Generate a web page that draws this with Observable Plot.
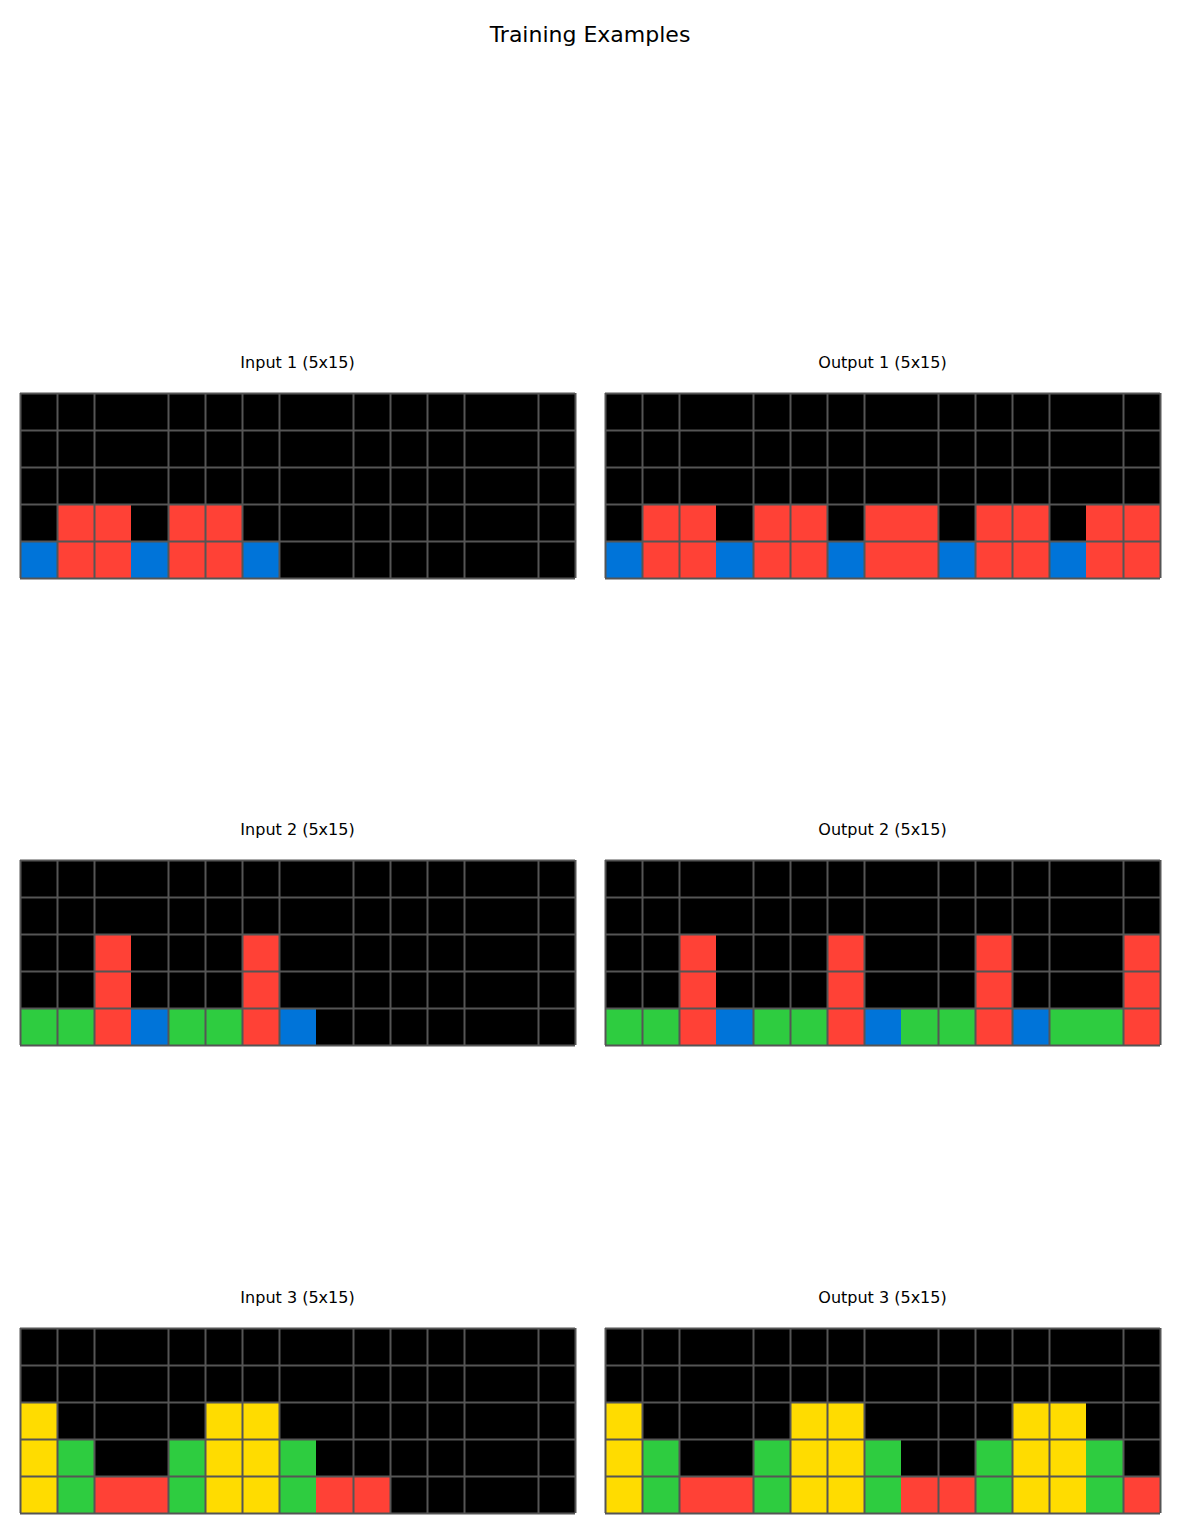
<!DOCTYPE html>
<html><head><meta charset="utf-8">
<script src="https://cdn.jsdelivr.net/npm/d3@7"></script>
<script src="https://cdn.jsdelivr.net/npm/@observablehq/plot@0.6"></script>
<style>
body{margin:0;background:#fff;font-family:"DejaVu Sans",sans-serif;}
#root{position:relative;width:1180px;height:1533px;}
.t{position:absolute;width:100%;text-align:center;font-size:22px;top:22px;}
.pt{position:absolute;width:555px;text-align:center;font-size:16px;}
.p{position:absolute;}
</style></head><body><div id="root"><div class="t">Training Examples</div></div>
<script>
const palette = {k:"#000000", b:"#0074D9", r:"#FF4136", g:"#2ECC40", y:"#FFDC00"};
const input1 = ["kkkkkkkkkkkkkkk","kkkkkkkkkkkkkkk","kkkkkkkkkkkkkkk","krrkrrkkkkkkkkk","brrbrrbkkkkkkkk"];
const output1 = ["kkkkkkkkkkkkkkk","kkkkkkkkkkkkkkk","kkkkkkkkkkkkkkk","krrkrrkrrkrrkrr","brrbrrbrrbrrbrr"];
const input2 = ["kkkkkkkkkkkkkkk","kkkkkkkkkkkkkkk","kkrkkkrkkkkkkkk","kkrkkkrkkkkkkkk","ggrbggrbkkkkkkk"];
const output2 = ["kkkkkkkkkkkkkkk","kkkkkkkkkkkkkkk","kkrkkkrkkkrkkkr","kkrkkkrkkkrkkkr","ggrbggrbggrbggr"];
const input3 = ["kkkkkkkkkkkkkkk","kkkkkkkkkkkkkkk","ykkkkyykkkkkkkk","ygkkgyygkkkkkkk","ygrrgyygrrkkkkk"];
const output3 = ["kkkkkkkkkkkkkkk","kkkkkkkkkkkkkkk","ykkkkyykkkkyykk","ygkkgyygkkgyygk","ygrrgyygrrgyygr"];
const panels = [
  {title:"Input 1 (5x15)", grid:input1, x:20, y:393},
  {title:"Output 1 (5x15)", grid:output1, x:605, y:393},
  {title:"Input 2 (5x15)", grid:input2, x:20, y:860},
  {title:"Output 2 (5x15)", grid:output2, x:605, y:860},
  {title:"Input 3 (5x15)", grid:input3, x:20, y:1328},
  {title:"Output 3 (5x15)", grid:output3, x:605, y:1328}
];
const vlines = d3.range(16).filter(i => ![3,8,13].includes(i));
const hlines = d3.range(6);
const root = document.getElementById("root");
for (const p of panels) {
  const cells = [];
  p.grid.forEach((row, r) => [...row].forEach((c, i) => cells.push({col:i, row:r, c})));
  const chart = Plot.plot({
    width: 559, height: 189, margin: 2,
    x: {domain:[0,15], axis:null},
    y: {domain:[0,5], axis:null, reverse:true},
    marks: [
      Plot.rect(cells, {x1:"col", x2:d=>d.col+1, y1:"row", y2:d=>d.row+1, fill:d=>palette[d.c]}),
      Plot.ruleX(vlines, {stroke:"#555", strokeWidth:2}),
      Plot.ruleY(hlines, {stroke:"#555", strokeWidth:2})
    ]
  });
  chart.classList.add("p");
  chart.style.left = (p.x-2)+"px"; chart.style.top = (p.y-2)+"px";
  root.appendChild(chart);
  const t = document.createElement("div");
  t.className = "pt"; t.textContent = p.title;
  t.style.left = p.x+"px"; t.style.top = (p.y-40)+"px";
  root.appendChild(t);
}
</script></body></html>
